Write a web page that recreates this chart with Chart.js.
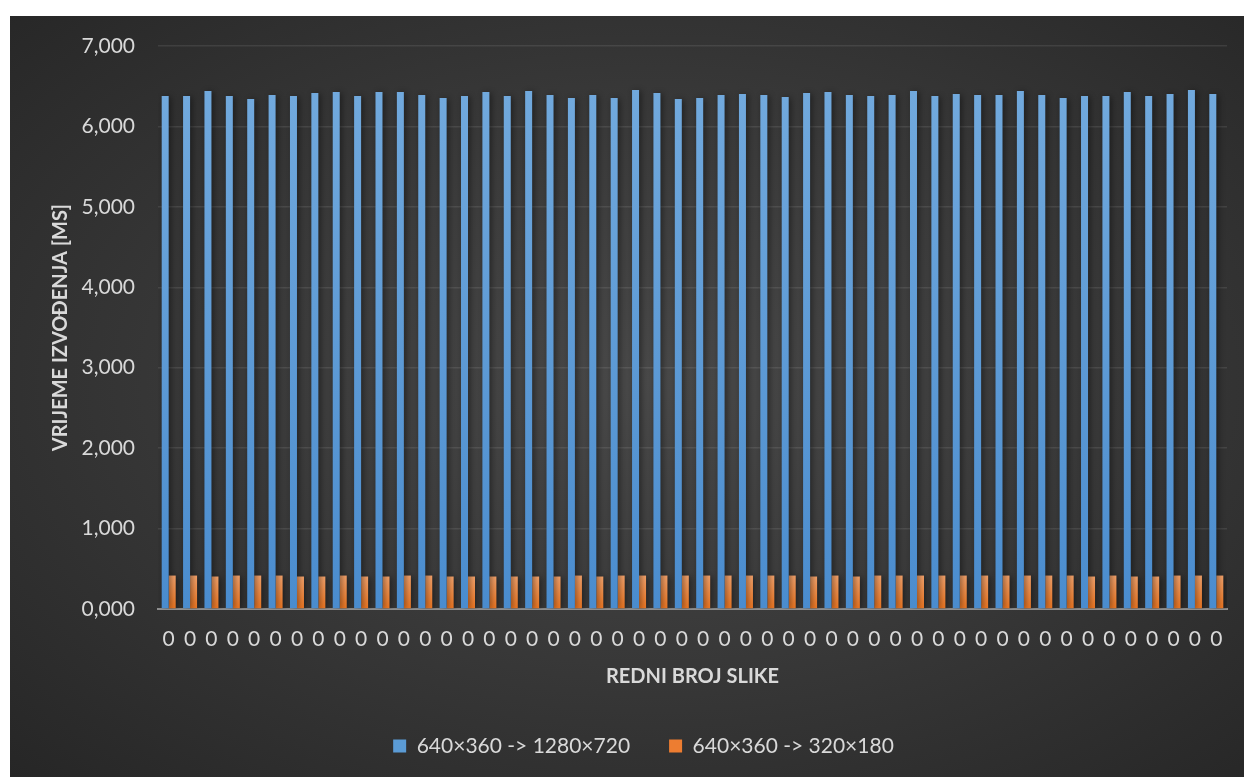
<!DOCTYPE html>
<html>
<head>
<meta charset="utf-8">
<script src="https://cdn.jsdelivr.net/npm/chart.js@4.4.1/dist/chart.umd.min.js"></script>
<style>
  html, body { margin: 0; padding: 0; background: #ffffff; }
  #wrap {
    position: absolute; left: 10px; top: 16px; width: 1234px; height: 761px;
    background: radial-gradient(ellipse at 52% 48%, #494949 0%, #3a3a3a 45%, #262626 100%);
  }
  canvas { display: block; }
</style>
</head>
<body>
<div id="wrap"><canvas id="c" width="1234" height="761"></canvas></div>
<script>
const categories = ['0','0','0','0','0','0','0','0','0','0','0','0','0','0','0','0','0','0','0','0','0','0','0','0','0',
                    '0','0','0','0','0','0','0','0','0','0','0','0','0','0','0','0','0','0','0','0','0','0','0','0','0'];
const seriesNames = ['640×360 -> 1280×720', '640×360 -> 320×180'];
const upscaleTimes = [6378,6378,6440,6378,6341,6391,6378,6416,6428,6378,6428,6428,6391,6353,6378,6428,6378,6440,6391,6353,
                      6391,6353,6453,6416,6341,6353,6391,6403,6391,6366,6416,6428,6391,6378,6391,6440,6378,6403,6391,6391,
                      6440,6391,6353,6378,6378,6428,6378,6403,6453,6403];
const downscaleTimes = [416,416,404,416,416,416,404,404,416,404,404,416,416,404,404,404,404,404,404,416,
                        404,416,416,416,416,416,416,416,416,416,404,416,404,416,416,416,416,416,416,416,
                        416,416,416,404,416,404,404,416,416,416];
const yTickLabels = ['0,000','1,000','2,000','3,000','4,000','5,000','6,000','7,000'];
const yAxisTitle = 'VRIJEME IZVOĐENJA [MS]';
const xAxisTitle = 'REDNI BROJ SLIKE';

function barGradient(top, bottom) {
  return function (c) {
    const chart = c.chart;
    if (!chart.chartArea || c.raw === undefined) return top;
    const y = chart.scales.y.getPixelForValue(c.raw);
    const y0 = chart.scales.y.getPixelForValue(0);
    const g = chart.ctx.createLinearGradient(0, y, 0, y0);
    g.addColorStop(0, top);
    g.addColorStop(1, bottom);
    return g;
  };
}

const shadowPlugin = {
  id: 'barShadow',
  beforeDatasetsDraw(chart) {
    const ctx = chart.ctx;
    ctx.save();
    ctx.shadowColor = 'rgba(0,0,0,0.45)';
    ctx.shadowBlur = 6;
    ctx.shadowOffsetX = 2;
    ctx.shadowOffsetY = 1;
  },
  afterDatasetsDraw(chart) { chart.ctx.restore(); }
};

const legendShift = {
  id: 'legendShift',
  afterLayout(chart) {
    if (chart.legend) { chart.legend.left += 25; chart.legend.right += 25; }
  }
};

const textColor = '#d9d9d9';
const font = 'Lato';

new Chart(document.getElementById('c'), {
  type: 'bar',
  data: {
    labels: categories,
    datasets: [
      { label: seriesNames[0], data: upscaleTimes, backgroundColor: barGradient('#71a9dd', '#4a8cce'), borderWidth: 0 },
      { label: seriesNames[1], data: downscaleTimes, backgroundColor: barGradient('#f5a36b', '#ec7520'), borderWidth: 0 }
    ]
  },
  options: {
    responsive: false,
    animation: false,
    devicePixelRatio: 1,
    layout: { padding: { top: 30, right: 17, bottom: 10.5, left: 0 } },
    datasets: { bar: { categoryPercentage: 0.655, barPercentage: 1.0 } },
    plugins: {
      tooltip: { enabled: false },
      legend: {
        position: 'bottom',
        labels: {
          color: textColor,
          font: { family: font, size: 21 },
          boxWidth: 13,
          boxHeight: 13,
          padding: 39,
          generateLabels(chart) {
            const cols = ['#5b9bd5', '#ed7d31'];
            return chart.data.datasets.map((d, i) => ({
              text: d.label, fillStyle: cols[i], strokeStyle: cols[i], lineWidth: 0,
              fontColor: textColor, datasetIndex: i, hidden: false
            }));
          }
        }
      }
    },
    scales: {
      x: {
        grid: { display: false, drawTicks: false },
        border: { display: true, color: '#8e8e8e', width: 2 },
        ticks: { color: textColor, font: { family: font, size: 21 }, padding: 18, maxRotation: 0, autoSkip: false },
        title: { display: true, text: xAxisTitle, color: textColor, font: { family: font, size: 20, weight: 'bold' }, padding: { top: 0, bottom: 7.5 } },
        afterFit(s) { s.height = 87.5; s.paddingLeft = 0; s.paddingRight = 0; }
      },
      y: {
        min: 0, max: 7000,
        ticks: {
          stepSize: 1000, color: textColor, font: { family: font, size: 21 }, padding: 23,
          callback(v) { return yTickLabels[Math.round(v / 1000)]; }
        },
        grid: { color: 'rgba(255,255,255,0.09)', lineWidth: 1.5, drawTicks: false },
        border: { display: false },
        title: { display: true, text: yAxisTitle, color: textColor, font: { family: font, size: 20, weight: 'bold' }, padding: { top: 39, bottom: 0 } },
        afterFit(s) { s.width = 148; s.paddingTop = 0; s.paddingBottom = 0; }
      }
    }
  },
  plugins: [shadowPlugin, legendShift]
});
</script>
</body>
</html>
